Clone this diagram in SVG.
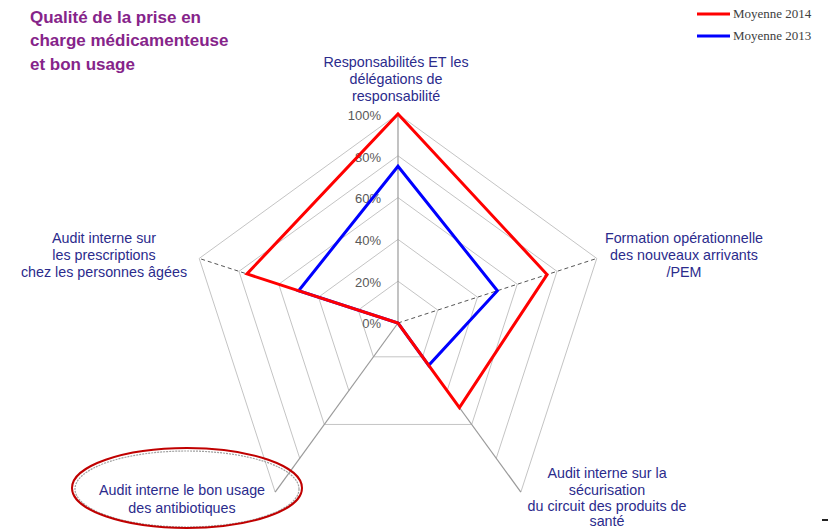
<svg xmlns="http://www.w3.org/2000/svg" width="828" height="530" viewBox="0 0 828 530">
  <style>
    .title { font-family: "Liberation Sans", Arial, sans-serif; font-weight: bold; font-size: 17px; fill: #86248a; }
    .axis-label { font-family: "Liberation Sans", Arial, sans-serif; font-size: 14.3px; fill: #2b2b8c; text-anchor: middle; }
    .pct { font-family: "Liberation Sans", Arial, sans-serif; font-size: 13px; fill: #595959; text-anchor: end; }
    .legend { font-family: "Liberation Serif", "Times New Roman", serif; font-size: 13px; fill: #404040; }
    .ring { fill: none; stroke: #c4c4c4; stroke-width: 1; }
    .spoke { fill: none; stroke: #9a9a9a; stroke-width: 1.2; }
    .spoke-dash { fill: none; stroke: #555555; stroke-width: 1; stroke-dasharray: 4 3; }
    .series { fill: none; stroke-width: 3; stroke-linejoin: miter; }
  </style>

  <rect width="828" height="530" fill="#ffffff"/>

  <!-- title -->
  <g id="title">
    <text class="title" x="30" y="23">Qualité de la prise en</text>
    <text class="title" x="30" y="46">charge médicamenteuse</text>
    <text class="title" x="30" y="70">et bon usage</text>
  </g>

  <!-- legend -->
  <g id="legend">
    <line x1="697" y1="14" x2="730" y2="14" stroke="#ff0000" stroke-width="3"/>
    <text class="legend" x="733" y="18">Moyenne 2014</text>
    <line x1="697" y1="36" x2="730" y2="36" stroke="#0000ff" stroke-width="3"/>
    <text class="legend" x="733" y="40">Moyenne 2013</text>
  </g>

  <!-- radar grid: centre (398,323), radius 209 -->
  <g id="grid">
    <polyline class="ring" points="422.57,356.82 437.76,310.08 398,281.2 358.24,310.08 373.43,356.82 422.57,356.82"/>
    <polyline class="ring" points="447.14,390.63 477.51,297.17 398,239.4 318.49,297.17 348.86,390.63"/>
    <polyline class="ring" points="471.71,424.45 517.27,284.25 398,197.6 278.73,284.25 324.29,424.45 471.71,424.45"/>
    <polyline class="ring" points="496.28,458.26 557.02,271.33 398,155.8 238.98,271.33 299.72,458.26"/>
    <polyline class="ring" points="520.85,492.08 596.78,258.42 398,114 199.22,258.42 275.15,492.08"/>

    <line class="spoke" x1="398" y1="323" x2="398" y2="114"/>
    <line class="spoke" x1="398" y1="323" x2="520.85" y2="492.08"/>
    <line class="spoke" x1="398" y1="323" x2="275.15" y2="492.08"/>
    <line class="spoke-dash" x1="398" y1="323" x2="596.78" y2="258.42"/>
    <line class="spoke-dash" x1="398" y1="323" x2="199.22" y2="258.42"/>
  </g>

  <!-- scale labels -->
  <g id="scale">
    <text class="pct" x="381" y="119.5">100%</text>
    <text class="pct" x="381" y="161.5">80%</text>
    <text class="pct" x="381" y="203">60%</text>
    <text class="pct" x="381" y="244.5">40%</text>
    <text class="pct" x="381" y="286.5">20%</text>
    <text class="pct" x="381" y="328">0%</text>
  </g>

  <!-- data series -->
  <g id="connectors">
    <polygon id="series-2013" class="series" stroke="#0000ff" points="398,166.25 497.39,290.71 428.71,365.27 398,323 298.61,290.71"/>
    <polygon id="series-2014" class="series" stroke="#ff0000" points="398,114 547.08,274.56 459.42,407.54 398,323 246.93,273.92"/>
  </g>

  <!-- axis labels -->
  <g id="axis-responsabilites">
    <text class="axis-label" x="396" y="67">Responsabilités ET les</text>
    <text class="axis-label" x="396" y="84">délégations de</text>
    <text class="axis-label" x="396" y="101">responsabilité</text>
  </g>
  <g id="axis-formation">
    <text class="axis-label" x="684" y="243">Formation opérationnelle</text>
    <text class="axis-label" x="684" y="260">des nouveaux arrivants</text>
    <text class="axis-label" x="684" y="277">/PEM</text>
  </g>
  <g id="axis-securisation">
    <text class="axis-label" x="607" y="478">Audit interne sur la</text>
    <text class="axis-label" x="607" y="494.5">sécurisation</text>
    <text class="axis-label" x="607" y="511">du circuit des produits de</text>
    <text class="axis-label" x="607" y="526">santé</text>
  </g>
  <g id="axis-antibiotiques">
    <ellipse cx="187" cy="489" rx="112" ry="38" fill="none" stroke="#a0a0a0" stroke-width="1.2" stroke-dasharray="2 1"/>
    <ellipse cx="187" cy="488" rx="115" ry="40" fill="none" stroke="#c00000" stroke-width="2"/>
    <text class="axis-label" x="182" y="495">Audit interne le bon usage</text>
    <text class="axis-label" x="182" y="512.5">des antibiotiques</text>
  </g>
  <g id="axis-prescriptions">
    <text class="axis-label" x="104" y="243">Audit interne sur</text>
    <text class="axis-label" x="104" y="260">les prescriptions</text>
    <text class="axis-label" x="104" y="277">chez les personnes âgées</text>
  </g>

  <rect x="822" y="519" width="6" height="2" fill="#222222"/>
</svg>
